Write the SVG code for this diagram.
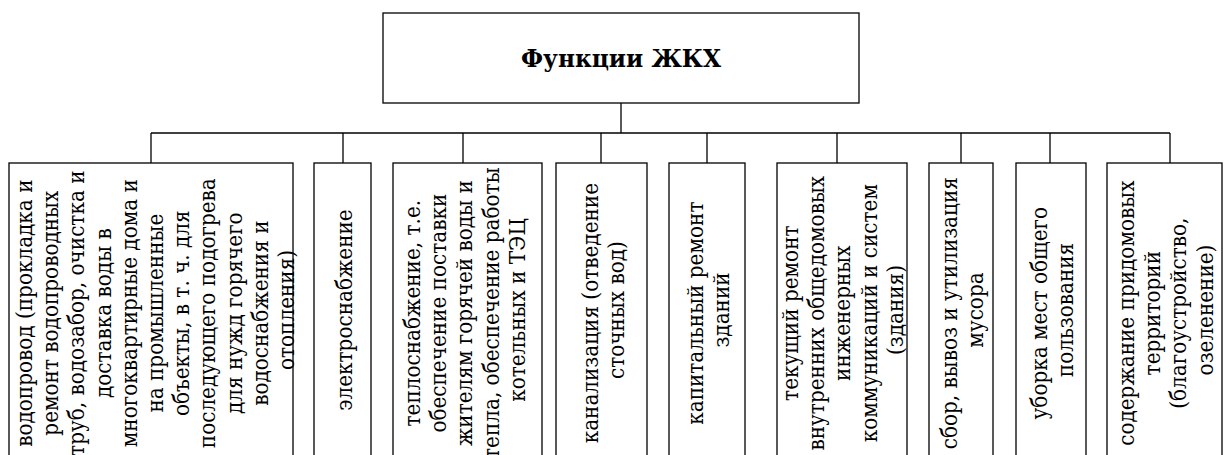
<svg xmlns="http://www.w3.org/2000/svg" width="1224" height="455" viewBox="0 0 1224 455">
<style>
.box{fill:#fff;stroke:#000;stroke-width:1.3}
.ln{stroke:#000;stroke-width:1.3;fill:none}
.t{font-size:23px}
.title{font-size:25px;font-weight:bold}
</style>
<rect width="1224" height="455" fill="#fff"/>
<g id="connectors">
<line class="ln" x1="621" y1="103" x2="621" y2="133" stroke-width="2"/>
<line class="ln" x1="151" y1="133" x2="1170" y2="133"/>
<line class="ln" x1="151" y1="133" x2="151" y2="163"/>
<line class="ln" x1="343" y1="133" x2="343" y2="163"/>
<line class="ln" x1="463" y1="133" x2="463" y2="163"/>
<line class="ln" x1="601" y1="133" x2="601" y2="163"/>
<line class="ln" x1="707" y1="133" x2="707" y2="163"/>
<line class="ln" x1="837" y1="133" x2="837" y2="163"/>
<line class="ln" x1="961" y1="133" x2="961" y2="163"/>
<line class="ln" x1="1050" y1="133" x2="1050" y2="163"/>
<line class="ln" x1="1170" y1="133" x2="1170" y2="163"/>
</g>
<g font-family="DejaVu Serif, serif" text-anchor="middle" fill="#000">
<g id="root">
<rect class="box" x="383" y="13" width="476" height="90"/>
<text class="title" transform="translate(621,67) scale(0.93,1)">Функции ЖКХ</text>
</g>
<g id="n1">
<rect class="box" x="9" y="163" width="284" height="310"/>
<text class="t" transform="translate(0,310) rotate(-90) scale(0.87,1)">
<tspan x="0" y="32">водопровод (прокладка и</tspan>
<tspan x="0" dy="26.2">ремонт водопроводных</tspan>
<tspan x="0" dy="26.2">труб, водозабор, очистка и</tspan>
<tspan x="0" dy="26.2">доставка воды в</tspan>
<tspan x="0" dy="26.2">многоквартирные дома и</tspan>
<tspan x="0" dy="26.2">на промышленные</tspan>
<tspan x="0" dy="26.2">объекты, в т. ч. для</tspan>
<tspan x="0" dy="26.2">последующего подогрева</tspan>
<tspan x="0" dy="26.2">для нужд горячего</tspan>
<tspan x="0" dy="26.2">водоснабжения и</tspan>
<tspan x="0" dy="26.2">отопления)</tspan>
</text>
</g>
<g id="n2">
<rect class="box" x="314" y="163" width="57" height="310"/>
<text class="t" transform="translate(0,310) rotate(-90) scale(0.87,1)"><tspan x="0" y="352">электроснабжение</tspan></text>
</g>
<g id="n3">
<rect class="box" x="393" y="163" width="149" height="310"/>
<text class="t" transform="translate(0,310) rotate(-90) scale(0.87,1)">
<tspan x="0" y="420">теплоснабжение, т.е.</tspan>
<tspan x="0" dy="26.2">обеспечение поставки</tspan>
<tspan x="0" dy="26.2">жителям горячей воды и</tspan>
<tspan x="0" dy="26.2">тепла, обеспечение работы</tspan>
<tspan x="0" dy="26.2">котельных и ТЭЦ</tspan>
</text>
</g>
<g id="n4">
<rect class="box" x="556" y="163" width="91" height="310"/>
<text class="t" transform="translate(0,310) rotate(-90) scale(0.87,1)">
<tspan x="0" y="598">канализация (отведение</tspan>
<tspan x="0" dy="26.2">сточных вод)</tspan>
</text>
</g>
<g id="n5">
<rect class="box" x="669" y="163" width="76" height="310"/>
<text class="t" transform="translate(0,310) rotate(-90) scale(0.87,1)">
<tspan x="0" y="703">капитальный ремонт</tspan>
<tspan x="0" dy="26.2">зданий</tspan>
</text>
</g>
<g id="n6">
<rect class="box" x="777" y="163" width="130" height="310"/>
<text class="t" transform="translate(0,310) rotate(-90) scale(0.87,1)">
<tspan x="0" y="798">текущий ремонт</tspan>
<tspan x="0" dy="26.2">внутренних общедомовых</tspan>
<tspan x="0" dy="26.2">инженерных</tspan>
<tspan x="0" dy="26.2">коммуникаций и систем</tspan>
<tspan x="0" dy="26.2">(здания)</tspan>
</text>
</g>
<g id="n7">
<rect class="box" x="929" y="163" width="64" height="310"/>
<text class="t" transform="translate(0,310) rotate(-90) scale(0.87,1)">
<tspan x="0" y="957">сбор, вывоз и утилизация</tspan>
<tspan x="0" dy="26.2">мусора</tspan>
</text>
</g>
<g id="n8">
<rect class="box" x="1016" y="163" width="70" height="310"/>
<text class="t" transform="translate(0,310) rotate(-90) scale(0.87,1)">
<tspan x="0" y="1047">уборка мест общего</tspan>
<tspan x="0" dy="26.2">пользования</tspan>
</text>
</g>
<g id="n9">
<rect class="box" x="1107" y="163" width="115" height="310"/>
<text class="t" transform="translate(0,310) rotate(-90) scale(0.87,1)">
<tspan x="0" y="1134">содержание придомовых</tspan>
<tspan x="0" dy="26.2">территорий</tspan>
<tspan x="0" dy="26.2">(благоустройство,</tspan>
<tspan x="0" dy="26.2">озеленение)</tspan>
</text>
</g>
</g>
</svg>
